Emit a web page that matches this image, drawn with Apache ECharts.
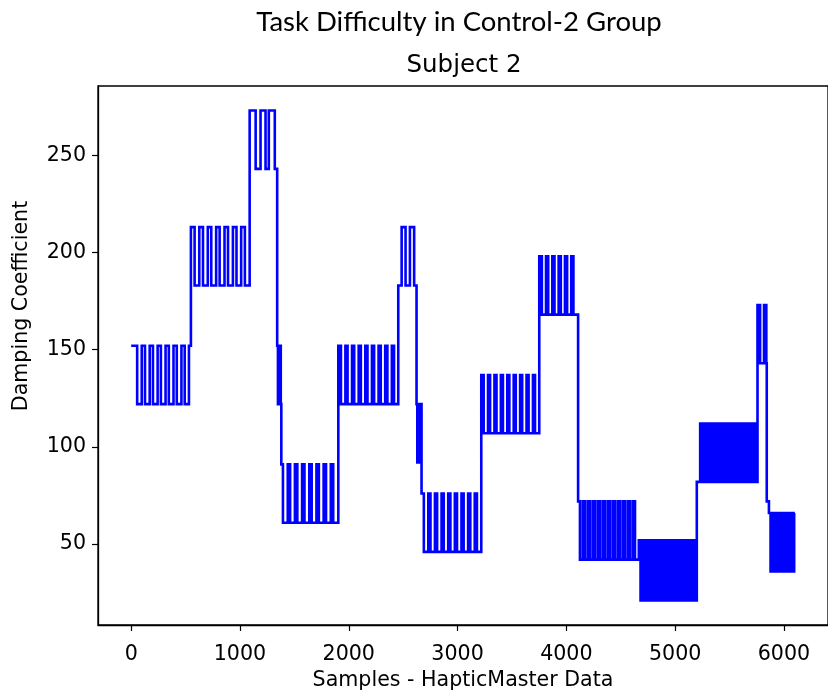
<!DOCTYPE html>
<html>
<head>
<meta charset="utf-8">
<title>Task Difficulty in Control-2 Group</title>
<script src="https://cdn.jsdelivr.net/npm/echarts@6/dist/echarts.min.js"></script>
<style>
  html, body { margin: 0; padding: 0; background: #ffffff; }
  #chart { width: 828px; height: 696px; }
</style>
</head>
<body>
<div id="chart"></div>
<script>
// Damping coefficient over the HapticMaster sample index.
// The signal is a square wave that toggles between a high and a low level
// inside each block; every block lists the samples where the level flips.

const blockStart = [0, 549, 1089, 1342, 1380, 1904, 2455, 2623, 2669, 3218, 3751, 4108, 4666, 5199, 5757, 5842, 5862];
const blockHigh  = [152, 213, 273, 152, 91, 152, 213, 122, 76, 137, 198, 72, 52, 112, 173, 72, 66];
const blockLow   = [122, 183, 243, 122, 61, 122, 183, 92, 46, 107, 168, 42, 21, 82, 143, 72, 36];
const blockFirstHigh = [true, true, true, true, true, true, false, true, true, true, true, true, true, false, true, true, true];

const sw01 = [55, 97, 127, 170, 200, 243, 273, 316, 346, 389, 419, 462, 492, 531];
const sw02 = [583, 626, 660, 704, 736, 781, 813, 858, 890, 935, 968, 1011, 1045];
const sw03 = [1144, 1189, 1235, 1265, 1320];
const sw04 = [1349, 1355, 1362, 1368, 1375];
const sw05 = [1395, 1439, 1461, 1505, 1527, 1571, 1593, 1637, 1659, 1703, 1725, 1769, 1791, 1835, 1857];
const sw06 = [1928, 1969, 1989, 2030, 2050, 2091, 2111, 2152, 2172, 2213, 2233, 2274, 2294, 2335, 2355, 2396, 2416];
const sw07 = [2486, 2522, 2562, 2601];
const sw08 = [2630, 2637, 2644, 2651, 2658, 2664];
const sw09 = [2690, 2731, 2751, 2792, 2812, 2853, 2873, 2914, 2934, 2975, 2995, 3036, 3056, 3097, 3117, 3158, 3178];
const sw10 = [3240, 3280, 3299, 3339, 3358, 3398, 3417, 3457, 3476, 3516, 3535, 3575, 3594, 3634, 3653, 3693, 3712];
const sw11 = [3775, 3813, 3833, 3871, 3891, 3929, 3949, 3987, 4007, 4045, 4065];
const sw12 = [4125, 4151, 4171, 4197, 4217, 4243, 4263, 4289, 4309, 4335, 4355, 4381, 4401, 4427, 4447, 4473, 4493, 4519, 4539, 4565, 4585, 4611, 4631];
const sw13 = [4682, 4700, 4716, 4734, 4750, 4768, 4784, 4802, 4818, 4836, 4852, 4870, 4886, 4904, 4920, 4938, 4954, 4972, 4988, 5006, 5022, 5040, 5056, 5074, 5090, 5108, 5124, 5142, 5158, 5176, 5188];
const sw14 = [5230, 5246, 5264, 5280, 5298, 5314, 5332, 5348, 5366, 5382, 5400, 5416, 5434, 5450, 5468, 5484, 5502, 5518, 5536, 5552, 5570, 5586, 5604, 5620, 5638, 5654, 5672, 5688, 5706, 5722, 5740, 5748];
const sw15 = [5766, 5772, 5781, 5817, 5826, 5831, 5838];
const sw16 = [];
const sw17 = [5877, 5895, 5911, 5929, 5945, 5963, 5979, 5997, 6013, 6031, 6047, 6065, 6081, 6094];
const blockSwitches = [sw01, sw02, sw03, sw04, sw05, sw06, sw07, sw08, sw09, sw10, sw11, sw12, sw13, sw14, sw15, sw16, sw17];

const lastSample = 6100;

const xTickValues = [0, 1000, 2000, 3000, 4000, 5000, 6000];
const yTickValues = [50, 100, 150, 200, 250];

// Build the polyline: each level change becomes a vertical jump at its sample.
const points = [];
function pushLevel(t, v) {
  if (points.length) points.push([t, points[points.length - 1][1]]);
  points.push([t, v]);
}
for (let b = 0; b < blockStart.length; b++) {
  let high = blockFirstHigh[b];
  pushLevel(blockStart[b], high ? blockHigh[b] : blockLow[b]);
  for (const t of blockSwitches[b]) {
    high = !high;
    pushLevel(t, high ? blockHigh[b] : blockLow[b]);
  }
}
points.push([lastSample, points[points.length - 1][1]]);

// Axis limits with a 5% margin on each side of the data.
const allY = blockHigh.concat(blockLow);
const yLo = Math.min(...allY), yHi = Math.max(...allY);
const yPad = (yHi - yLo) * 0.05;
const xPad = lastSample * 0.05;

const chart = echarts.init(document.getElementById('chart'), null, { renderer: 'canvas' });

const tickFont = 'DejaVu Sans';
const labelSize = 20.6;

// The whole trace is drawn as one polyline so that very short plateaus
// (a couple of pixels wide) are kept instead of being merged away.
function renderTrace(params, api) {
  if (params.dataIndex !== 0) return null;
  const pts = points.map(p => api.coord(p));
  return {
    type: 'polyline',
    shape: { points: pts },
    style: { fill: null, stroke: '#0000ff', lineWidth: 2.6, lineJoin: 'miter' },
    silent: true
  };
}

chart.setOption({
  animation: false,
  backgroundColor: '#ffffff',
  grid: {
    left: 98, top: 86, width: 732, height: 545,
    show: true, borderColor: '#000000', borderWidth: 1.3, backgroundColor: 'transparent'
  },
  graphic: [
    {
      type: 'text', x: 459, y: 22,
      style: { text: 'Task Difficulty in Control-2 Group', fill: '#000', font: '27.5px Lato',
               textAlign: 'center', textVerticalAlign: 'middle' }
    },
    {
      type: 'text', x: 464, y: 66,
      style: { text: 'Subject 2', fill: '#000', font: '24.5px "DejaVu Sans"',
               textAlign: 'center', textVerticalAlign: 'middle' }
    },
    {
      type: 'text', x: 22, y: 306, rotation: Math.PI / 2,
      style: { text: 'Damping Coefficient', fill: '#000', font: labelSize + 'px "DejaVu Sans"',
               textAlign: 'center', textVerticalAlign: 'middle' }
    }
  ],
  xAxis: {
    type: 'value',
    min: -xPad, max: lastSample + xPad,
    splitLine: { show: false },
    axisLine: { show: true, onZero: false, lineStyle: { color: '#000', width: 1.3 } },
    axisTick: { show: true, length: 6, customValues: xTickValues, lineStyle: { color: '#000', width: 1.2 } },
    axisLabel: { customValues: xTickValues, formatter: v => String(v), color: '#000',
                 fontFamily: tickFont, fontSize: labelSize, margin: 19 },
    name: 'Samples - HapticMaster Data',
    nameLocation: 'middle', nameGap: 45,
    nameTextStyle: { color: '#000', fontFamily: tickFont, fontSize: labelSize }
  },
  yAxis: {
    type: 'value',
    min: yLo - yPad, max: yHi + yPad,
    splitLine: { show: false },
    axisLine: { show: true, onZero: false, lineStyle: { color: '#000', width: 1.3 } },
    axisTick: { show: true, length: 6, customValues: yTickValues, lineStyle: { color: '#000', width: 1.2 } },
    axisLabel: { customValues: yTickValues, formatter: v => String(v), color: '#000',
                 fontFamily: tickFont, fontSize: labelSize, margin: 12 }
  },
  series: [{
    type: 'custom',
    renderItem: renderTrace,
    data: points,
    encode: { x: 0, y: 1 },
    clip: true
  }]
});
</script>
</body>
</html>
